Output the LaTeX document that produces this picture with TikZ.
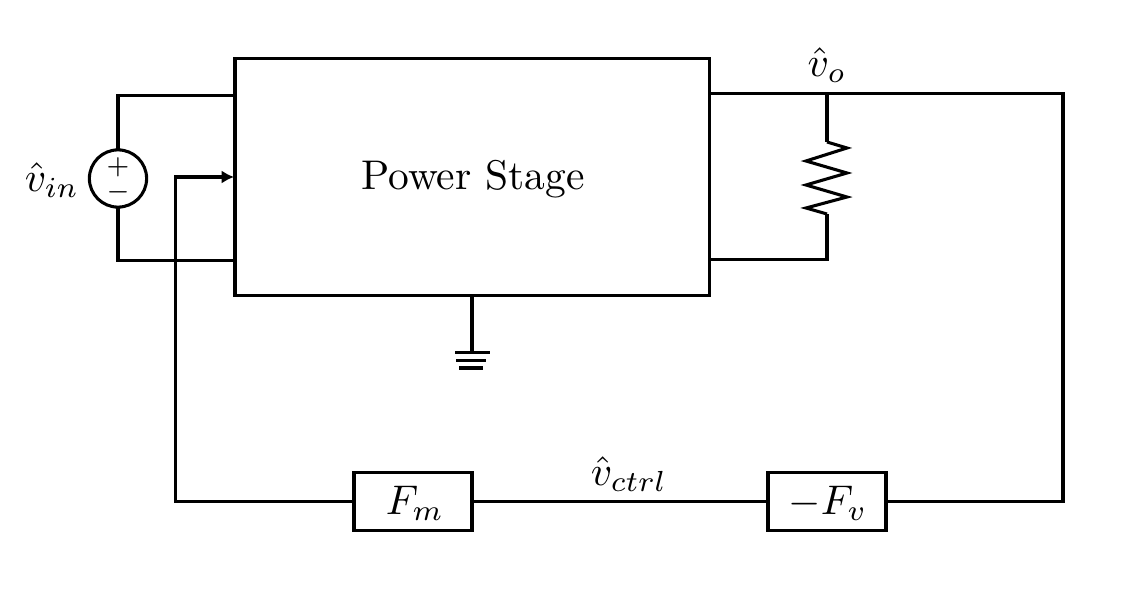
\documentclass[tikz,border=0pt]{standalone}
\usetikzlibrary{arrows.meta}
\tikzset{
	wire/.style={line width=0.74pt},
	block/.style={draw,line width=0.74pt,rectangle,inner sep=0pt,outer sep=0pt,minimum width=28.45pt,minimum height=14.2pt},
	source/.style={draw,line width=0.74pt,circle,inner sep=0pt,outer sep=0pt,minimum size=13.8pt},
	lbl/.style={inner sep=0.75pt}
}
\begin{document}
\begin{tikzpicture}[x=0.2411pt,y=0.2411pt,yscale=-1,xscale=1]
	\useasboundingbox (0,0) rectangle (1125,594);
	% blocks
	\node [block,minimum width=114.3pt,minimum height=57.1pt] (stage) at (472,177) {};
	\node [lbl] (stagetxt) at (473,179) {Power Stage};
	\node [block] (fm) at (413,501.5) {};
	\node [block] (fv) at (827,501.5) {};
	\node [lbl] (fmtxt) at (415,503.5) {$F_m$};
	\node [lbl] (fvtxt) at (828,503.5) {$-F_v$};
	% input source
	\node [source] (vin) at (118,178.5) {};
	\node [inner sep=0pt] (plus) at (118,167.5) {\fontsize{6}{7}\selectfont $+$};
	\node [inner sep=0pt] (minus) at (118,192) {\fontsize{6}{7}\selectfont $-$};
	\node [lbl] (vintxt) at (52,180) {$\hat{v}_{in}$};
	\coordinate (intop) at (235,95.5);
	\coordinate (inbot) at (235,260.5);
	\draw [wire] (vin.north) |- (intop);
	\draw [wire] (vin.south) |- (inbot);
	% output and load
	\coordinate (outtop) at (709,93.5);
	\coordinate (outbot) at (709,259.5);
	\coordinate (load) at (827,93.5);
	\coordinate (far) at (1063,93.5);
	\coordinate (restop) at (827,142);
	\coordinate (resbot) at (827,214);
	\node [lbl] (votxt) at (827,65) {$\hat{v}_o$};
	\draw [wire] (outtop) -- (far) |- (fv.east);
	\draw [wire] (load) -- (restop);
	\draw [wire] (restop) -- (847,148) -- (806,161) -- (847,173) -- (806,185) -- (847,197) -- (806,208) -- (resbot);
	\draw [wire] (resbot) |- (outbot);
	% ground
	\coordinate (gnd) at (472,352);
	\draw [wire] (stage.south) -- (gnd);
	\draw [wire] (455,352.5) -- (490,352.5);
	\draw [wire] (456,360.5) -- (486,360.5);
	\draw [wire] (459,368) -- (483,368);
	% feedback
	\coordinate (corner) at (175.5,501.5);
	\coordinate (ctrl) at (234,177);
	\draw [wire] (fv.west) -- (fm.east);
	\draw [wire,-{Latex[length=3pt,width=3.2pt]}] (fm.west) -- (corner) |- (ctrl);
	\node [lbl] (ctrltxt) at (629,474) {$\hat{v}_{ctrl}$};
\end{tikzpicture}
\end{document}
